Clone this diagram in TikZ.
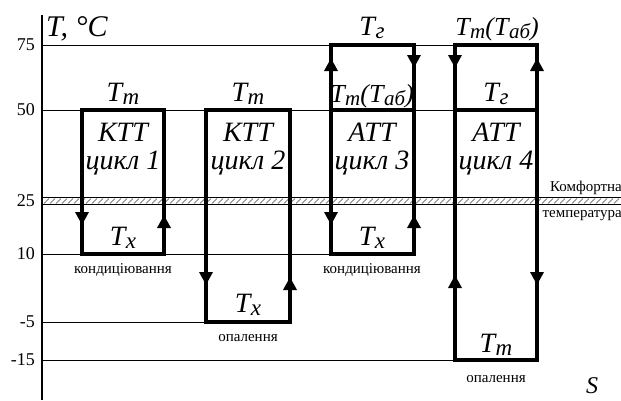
\documentclass[tikz,border=0pt]{standalone}
\usepackage{fontspec}
\setmainfont{Liberation Serif}
\usetikzlibrary{arrows.meta}
\newcommand\tsub[3][23]{\textit{#2}\kern0.5pt\raisebox{-0.3ex}{\fontsize{#1}{#1}\selectfont\itshape #3}}

\begin{document}
\begin{tikzpicture}[x=1pt, y=-1pt,
    level/.style={line width=1pt},
    cyc/.style={line width=3.2pt},
    flow/.style={cyc, -{Triangle[width=13pt,length=13pt]}},
    big/.style={font=\fontsize{28}{28}\selectfont\itshape, inner sep=0pt, anchor=base},
    mid/.style={big, font=\fontsize{26}{26}\selectfont\itshape},
    small/.style={font=\fontsize{15}{15}\selectfont, inner sep=0pt, anchor=base},
    num/.style={font=\fontsize{18}{18}\selectfont, inner sep=0pt, anchor=east}]
  \useasboundingbox (0,0) rectangle (621,400);
  % temperature levels
  \draw[level] (42,45) -- (455,45);
  \draw[level] (42,110) -- (455,110);
  \draw[level] (42,254) -- (331,254);
  \draw[level] (42,322) -- (206,322);
  \draw[level] (42,360) -- (455,360);
  \foreach \t/\y in {75/45,50/110,25/201,10/254,-5/322,-15/360}{ \node[num] (n\y) at (35,\y) {\t}; }
  % comfort band
  \draw[line width=1.4pt] (42,197.5) -- (621,197.5);
  \draw[line width=1.4pt] (42,204.5) -- (621,204.5);
  \foreach \x in {44,50,...,614}{ \draw[line width=0.45pt, black!75] (\x,203.5) -- (\x+5,198.5); }
  \node[small, anchor=base east] (comf) at (622,191) {Комфортна};
  \node[small, anchor=base east] (temp) at (622,217) {температура};
  % axis
  \draw[line width=2.6pt] (42,15) -- (42,400);
  \node[big, anchor=base west, font=\fontsize{30}{30}\selectfont\itshape] (tax) at (46,36) {T, °C};
  \node[big, font=\fontsize{24}{24}\selectfont\itshape] (sax) at (592,393) {S};
  % cycle 1
  \draw[cyc] (82,110) rectangle (164,254);
  \draw[flow] (82,110) -- (82,225);
  \draw[flow] (164,254) -- (164,215);
  \node[big] (tm1) at (123,101) {\tsub{T}{m}};
  \node[big] (ktt1) at (123,141) {КТТ};
  \node[big] (cyc1) at (123,169) {цикл 1};
  \node[big] (tx1) at (123,245) {\tsub{T}{x}};
  \node[small] (cond1) at (123,273) {кондиціювання};
  % cycle 2
  \draw[cyc] (206,110) rectangle (290,322);
  \draw[flow] (206,110) -- (206,285);
  \draw[flow] (290,322) -- (290,277);
  \node[big] (tm2) at (248,101) {\tsub{T}{m}};
  \node[big] (ktt2) at (248,141) {КТТ};
  \node[big] (cyc2) at (248,169) {цикл 2};
  \node[big] (tx2) at (248,312) {\tsub{T}{x}};
  \node[small] (heat2) at (248,341) {опалення};
  % cycle 3
  \draw[cyc] (331,45) rectangle (414,254);
  \draw[cyc] (331,110) -- (414,110);
  \draw[flow] (331,110) -- (331,58);
  \draw[flow] (414,45) -- (414,68);
  \draw[flow] (331,110) -- (331,225);
  \draw[flow] (414,254) -- (414,215);
  \node[big] (tg3) at (372,35) {\tsub{T}{г}};
  \node[mid] (tmab3) at (372,102) {\tsub[21]{T}{m}(\tsub[21]{T}{аб})};
  \node[big] (att3) at (372,141) {АТТ};
  \node[big] (cyc3) at (372,169) {цикл 3};
  \node[big] (tx3) at (372,245) {\tsub{T}{x}};
  \node[small] (cond3) at (372,273) {кондиціювання};
  % cycle 4
  \draw[cyc] (455,45) rectangle (537,360);
  \draw[cyc] (455,110) -- (537,110);
  \draw[flow] (455,45) -- (455,68);
  \draw[flow] (537,110) -- (537,58);
  \draw[flow] (455,360) -- (455,275);
  \draw[flow] (537,110) -- (537,285);
  \node[mid] (tmab4) at (497,35) {\tsub[21]{T}{m}(\tsub[21]{T}{аб})};
  \node[big] (tg4) at (496,101) {\tsub{T}{г}};
  \node[big] (att4) at (496,141) {АТТ};
  \node[big] (cyc4) at (496,169) {цикл 4};
  \node[big] (tm4) at (496,352) {\tsub{T}{m}};
  \node[small] (heat4) at (496,382) {опалення};
\end{tikzpicture}
\end{document}
